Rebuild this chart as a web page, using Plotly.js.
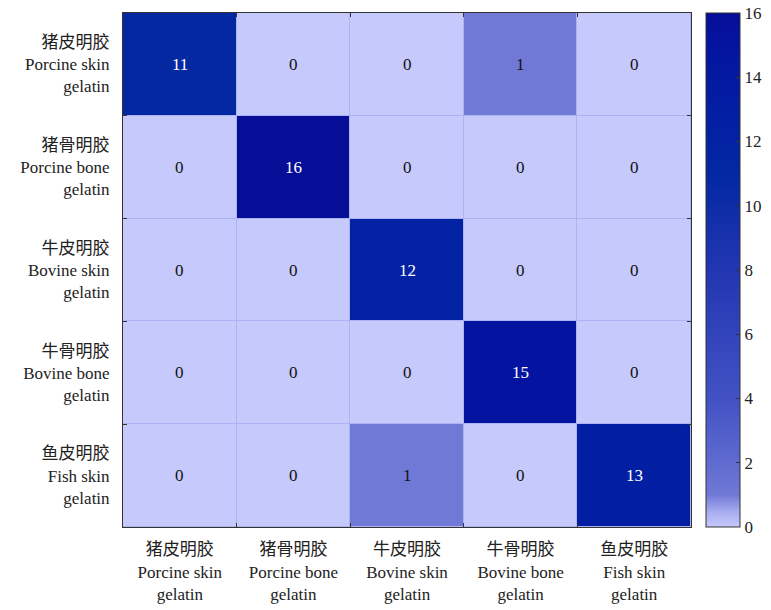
<!DOCTYPE html>
<html>
<head>
<meta charset="utf-8">
<script src="https://cdn.plot.ly/plotly-3.0.1.min.js"></script>
<style>
  html, body { margin: 0; padding: 0; background: #ffffff; }
  #chart { width: 771px; height: 610px; }
</style>
</head>
<body>
<div id="chart"></div>
<script>
// Gelatin source classes (rows = actual, columns = predicted)
const classLabels = [
  '猪皮明胶<br>Porcine skin<br>gelatin',
  '猪骨明胶<br>Porcine bone<br>gelatin',
  '牛皮明胶<br>Bovine skin<br>gelatin',
  '牛骨明胶<br>Bovine bone<br>gelatin',
  '鱼皮明胶<br>Fish skin<br>gelatin'
];

// Confusion matrix counts
const counts = [
  [11, 0, 0, 1, 0],
  [0, 16, 0, 0, 0],
  [0, 0, 12, 0, 0],
  [0, 0, 0, 15, 0],
  [0, 0, 1, 0, 13]
];

const colorTicks = [0, 2, 4, 6, 8, 10, 12, 14, 16];

const fontFamily = '"Liberation Serif", "Times New Roman", "Noto Sans CJK SC", serif';

const heat = {
  type: 'heatmap',
  z: counts,
  x: classLabels,
  y: classLabels,
  zmin: 0,
  zmax: 16,
  xgap: 1,
  ygap: 1,
  hoverongaps: false,
  colorscale: [
    [0.0, '#c6c9fb'],
    [0.03, '#a6acee'],
    [0.0625, '#7079d6'],
    [0.125, '#5f6bd0'],
    [0.25, '#4252c4'],
    [0.5, '#2236b2'],
    [0.6875, '#0328a2'],
    [0.75, '#0322a3'],
    [0.8125, '#021ea3'],
    [0.9375, '#0414a0'],
    [1.0, '#060e98']
  ],
  colorbar: {
    x: 1.026,
    xanchor: 'left',
    xpad: 0,
    ypad: 0,
    y: 0.5,
    yanchor: 'middle',
    len: 1,
    thickness: 34,
    outlinewidth: 1,
    outlinecolor: '#333333',
    tickvals: colorTicks,
    ticktext: colorTicks.map(String),
    ticks: 'inside',
    ticklen: 4,
    tickcolor: '#333333',
    tickfont: { family: fontFamily, size: 17, color: '#222222' }
  }
};

// Count labels in each cell, white on the darker cells
const annotations = [];
counts.forEach((row, i) => {
  row.forEach((v, j) => {
    annotations.push({
      x: classLabels[j],
      y: classLabels[i],
      xref: 'x',
      yref: 'y',
      text: String(v),
      showarrow: false,
      font: { family: fontFamily, size: 17, color: v > 5 ? '#ffffff' : '#111111' }
    });
  });
});

const layout = {
  width: 771,
  height: 610,
  margin: { l: 123, r: 80, t: 13, b: 83, autoexpand: false },
  paper_bgcolor: '#ffffff',
  plot_bgcolor: '#adb3f2',
  font: { family: fontFamily, size: 17, color: '#222222' },
  xaxis: {
    type: 'category',
    tickson: 'boundaries',
    ticks: 'inside',
    ticklen: 4,
    tickcolor: '#333333',
    showline: true,
    linecolor: '#333333',
    linewidth: 1,
    mirror: 'ticks',
    showgrid: false,
    zeroline: false,
    ticklabelstandoff: 7,
    tickfont: { family: fontFamily, size: 17, color: '#222222' }
  },
  yaxis: {
    type: 'category',
    autorange: 'reversed',
    tickson: 'boundaries',
    ticks: 'inside',
    ticklen: 4,
    tickcolor: '#333333',
    showline: true,
    linecolor: '#333333',
    linewidth: 1,
    mirror: 'ticks',
    showgrid: false,
    zeroline: false,
    ticklabelstandoff: 9,
    tickfont: { family: fontFamily, size: 17, color: '#222222' }
  },
  annotations: annotations
};

Plotly.newPlot('chart', [heat], layout, { displayModeBar: false, staticPlot: true });
</script>
</body>
</html>
